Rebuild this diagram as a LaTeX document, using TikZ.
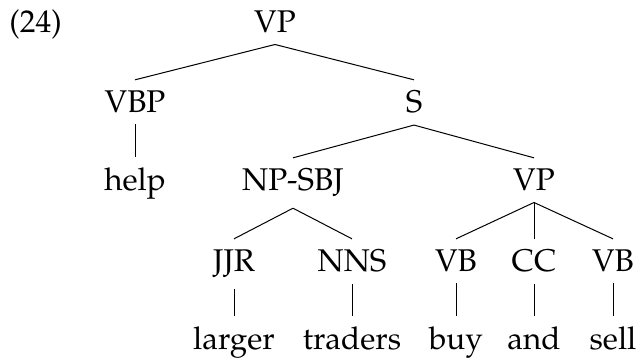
\documentclass[tikz,border=0pt]{standalone}
\usepackage[T1]{fontenc}
\usepackage{mathpazo}
\tikzset{
    lbl/.style={anchor=base, inner sep=5.5pt},
    br/.style={-, line width=0.5pt}
}
\begin{document}
\begin{tikzpicture}[x=0.5pt, y=-0.5pt, font=\fontsize{15.7}{19}\selectfont]
                \useasboundingbox (0,0) rectangle (639,362);
                \node[anchor=base west, inner sep=0pt] (ex) at (9,33) {(24)};
                % phrase levels
                \node[lbl] (vp) at (275,33) {VP};
                \node[lbl] (vbp) at (135,113) {VBP};
                \node[lbl] (s) at (414,113) {S};
                \node[lbl] (help) at (135,191) {help};
                \node[lbl] (np) at (293,191) {NP-SBJ};
                \node[lbl] (vpb) at (534,191) {VP};
                \node[lbl] (jjr) at (234,272) {JJR};
                \node[lbl] (nns) at (352,272) {NNS};
                \node[lbl] (vba) at (456,272) {VB};
                \node[lbl] (cc) at (534,272) {CC};
                \node[lbl] (vbb) at (613,272) {VB};
                % words
                \node[lbl] (larger) at (234,350) {larger};
                \node[lbl] (traders) at (352,350) {traders};
                \node[lbl] (buy) at (456,350) {buy};
                \node[lbl] (and) at (534,350) {and};
                \node[lbl] (sell) at (613,350) {sell};
                \draw[br] (vp.south) -- (vbp.north);
                \draw[br] (vp.south) -- (s.north);
                \draw[br] (vbp.south) -- (help.north);
                \draw[br] (s.south) -- (np.north);
                \draw[br] (s.south) -- (vpb.north);
                \draw[br] (np.south) -- (jjr.north);
                \draw[br] (np.south) -- (nns.north);
                \draw[br] (vpb.south) -- (vba.north);
                \draw[br] (vpb.south) -- (cc.north);
                \draw[br] (vpb.south) -- (vbb.north);
                \draw[br] (jjr.south) -- (larger.north);
                \draw[br] (nns.south) -- (traders.north);
                \draw[br] (vba.south) -- (buy.north);
                \draw[br] (cc.south) -- (and.north);
                \draw[br] (vbb.south) -- (sell.north);
            \end{tikzpicture}
\end{document}
